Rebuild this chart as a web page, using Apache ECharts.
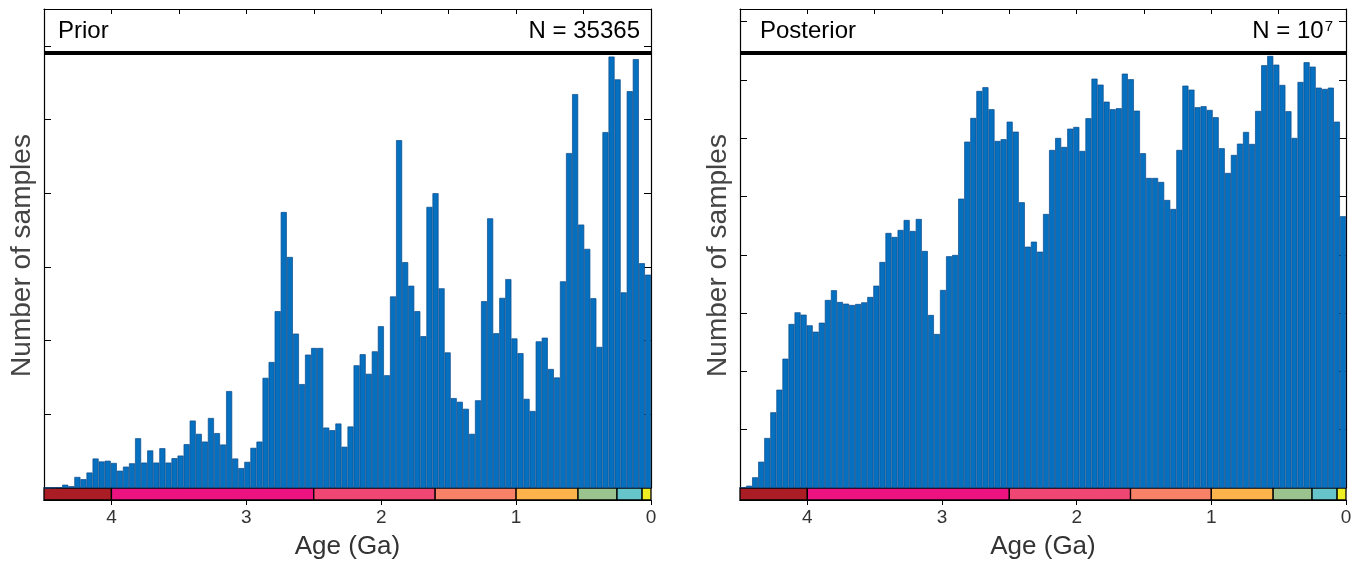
<!DOCTYPE html>
<html><head><meta charset="utf-8">
<script src="https://cdn.jsdelivr.net/npm/echarts@6/dist/echarts.min.js"></script>
<style>html,body{margin:0;padding:0;background:#fff}#c{width:1366px;height:567px}</style>
</head><body><div id="c"></div>
<script>
// ---- data ----
const AGE_MAX = 4.5;          // Ga
const BIN_WIDTH = 0.045;      // Ga
const binCenters = Array.from({length: 100}, (_, i) => +(AGE_MAX - (i + 0.5) * BIN_WIDTH).toFixed(4));

const priorCounts = [
  0, 1, 2, 9, 5, 30, 24, 42, 80, 72,
  74, 68, 47, 58, 67, 135, 69, 102, 69, 108,
  69, 81, 88, 119, 183, 147, 126, 190, 149, 118,
  263, 80, 54, 71, 109, 126, 299, 342, 480, 749,
  627, 419, 282, 362, 380, 380, 164, 157, 175, 112,
  167, 333, 363, 310, 371, 439, 306, 520, 944, 613,
  549, 480, 412, 763, 800, 542, 368, 244, 234, 215,
  147, 238, 507, 732, 420, 516, 567, 406, 366, 242,
  209, 398, 408, 323, 300, 561, 909, 1069, 715, 649,
  515, 383, 966, 1171, 1109, 531, 1077, 1164, 610, 579
];

const posteriorCounts = [
  240, 789, 3671, 9022, 17153, 25969, 33722, 44356, 56260, 60274,
  59450, 55814, 53619, 56706, 64493, 67821, 63807, 63224, 62778, 63121,
  63704, 65523, 69399, 77529, 87478, 86106, 88507, 91937, 88164, 92280,
  81303, 59348, 52830, 67924, 79485, 79931, 99244, 118798, 126929, 136191,
  137460, 129913, 119038, 119621, 125659, 122229, 98009, 82778, 84493, 81063,
  93996, 115951, 120068, 116980, 123258, 123841, 115608, 126826, 140410, 138352,
  132520, 129913, 130256, 142126, 140205, 129433, 114819, 106346, 106346, 104973,
  98798, 95711, 115951, 138009, 136637, 130599, 130942, 129673, 127169, 116534,
  108061, 114236, 118112, 122126, 118009, 129330, 145007, 148198, 145213, 138249,
  129227, 120068, 139278, 146036, 144527, 137323, 136877, 137323, 125659, 93207
];

const eraNames  = ['Hadean', 'Archean', 'Paleoproterozoic', 'Mesoproterozoic', 'Neoproterozoic', 'Paleozoic', 'Mesozoic', 'Cenozoic'];
const eraStart  = [4.5, 4.0, 2.5, 1.6, 1.0, 0.541, 0.252, 0.066];
const eraEnd    = [4.0, 2.5, 1.6, 1.0, 0.541, 0.252, 0.066, 0.0];
const eraColors = ['#AA1D25', '#EC1280', '#EF4673', '#F88268', '#FCB34B', '#9BC38E', '#66C5CB', '#EEEE22'];

const panelTitles = ['Prior', 'Posterior'];
const panelN = ['N = 35365', 'N = 10{sup|7}'];
const yTickStep = [200, 20000];
const yMax = [1300, 164300];

// ---- chart ----
const FONT = 'Liberation Sans, Arial, sans-serif';
const chart = echarts.init(document.getElementById('c'), null, {renderer: 'canvas'});

const panels = [
  {left: 44, width: 607, counts: priorCounts, titleLeft: 58, nRight: 726},
  {left: 740, width: 606, counts: posteriorCounts, titleLeft: 760, nRight: 33}
];
const eraData = eraNames.map((n, i) => [eraStart[i], eraEnd[i], i]);
const frameLine = {show: true, onZero: false, lineStyle: {color: '#000', width: 1.2}};

const grid = [], xAxis = [], yAxis = [], series = [], title = [], graphic = [];
panels.forEach((p, k) => {
  const gMain = grid.length;
  grid.push({left: p.left, top: 9, width: p.width, height: 479});
  const gBar = grid.length;
  grid.push({left: p.left, top: 488, width: p.width, height: 12});

  const xCat = xAxis.length;
  xAxis.push({type: 'category', gridIndex: gMain, data: binCenters, show: false, boundaryGap: true});
  xAxis.push({type: 'value', gridIndex: gMain, position: 'top', min: 0, max: AGE_MAX, inverse: true, interval: 0.5,
    axisLine: frameLine,
    axisTick: {show: true, inside: true, length: 5, lineStyle: {color: '#000', width: 1}},
    axisLabel: {show: false}, splitLine: {show: false}});
  const xAge = xAxis.length;
  xAxis.push({type: 'value', gridIndex: gBar, position: 'bottom', min: 0, max: AGE_MAX, inverse: true, interval: 1,
    axisLine: frameLine,
    axisTick: {show: true, inside: false, length: 5, lineStyle: {color: '#000', width: 1}},
    axisLabel: {show: true, fontSize: 19, color: '#333', margin: 8, fontFamily: FONT, showMaxLabel: false},
    splitLine: {show: false},
    name: 'Age (Ga)', nameLocation: 'middle', nameGap: 34,
    nameTextStyle: {fontSize: 26, color: '#333', fontFamily: FONT}});

  const yL = yAxis.length;
  yAxis.push({type: 'value', gridIndex: gMain, position: 'left', min: 0, max: yMax[k], interval: yTickStep[k],
    axisLine: frameLine,
    axisTick: {show: true, inside: true, length: 7, lineStyle: {color: '#000', width: 1}},
    axisLabel: {show: false}, splitLine: {show: false},
    name: 'Number of samples', nameLocation: 'middle', nameGap: 8,
    nameTextStyle: {fontSize: 28, color: '#444', fontFamily: FONT, padding: [0, 14, 0, 0]}});
  yAxis.push({type: 'value', gridIndex: gMain, position: 'right', min: 0, max: yMax[k], interval: yTickStep[k],
    axisLine: frameLine,
    axisTick: {show: true, inside: true, length: 7, lineStyle: {color: '#000', width: 1}},
    axisLabel: {show: false}, splitLine: {show: false}});
  const yBar = yAxis.length;
  yAxis.push({type: 'value', gridIndex: gBar, min: 0, max: 1, show: false});

  series.push({type: 'bar', xAxisIndex: xCat, yAxisIndex: yL, data: p.counts,
    barCategoryGap: '0%', barGap: '0%',
    itemStyle: {color: '#0570C0', borderColor: '#0D4B8A', borderWidth: 0.7},
    emphasis: {disabled: true}, silent: true});

  series.push({type: 'custom', xAxisIndex: xAge, yAxisIndex: yBar, data: eraData, silent: true,
    encode: {x: [0, 1]},
    renderItem: (params, api) => {
      const a = api.coord([api.value(0), 0]);
      const b = api.coord([api.value(1), 1]);
      return {type: 'rect',
        shape: {x: Math.min(a[0], b[0]), y: Math.min(a[1], b[1]), width: Math.abs(b[0] - a[0]), height: Math.abs(b[1] - a[1])},
        style: {fill: eraColors[api.value(2)], stroke: '#000', lineWidth: 1.3}};
    }});

  title.push({text: panelTitles[k], left: p.titleLeft, top: 19, padding: 0,
    textStyle: {fontSize: 24, fontWeight: 'normal', color: '#000', fontFamily: FONT}});
  title.push({text: panelN[k], right: p.nRight, top: 19, padding: 0,
    textStyle: {fontSize: 24, fontWeight: 'normal', color: '#000', fontFamily: FONT,
      rich: {sup: {fontSize: 15, verticalAlign: 'top', padding: [0, 0, 10, 1], fontFamily: FONT, color: '#000'}}}});

  graphic.push({type: 'line', shape: {x1: p.left, y1: 53, x2: p.left + p.width, y2: 53},
    style: {stroke: '#000', lineWidth: 4}, silent: true, z: 10});
});

chart.setOption({animation: false, backgroundColor: '#fff', grid, xAxis, yAxis, series, title, graphic});
</script></body></html>
